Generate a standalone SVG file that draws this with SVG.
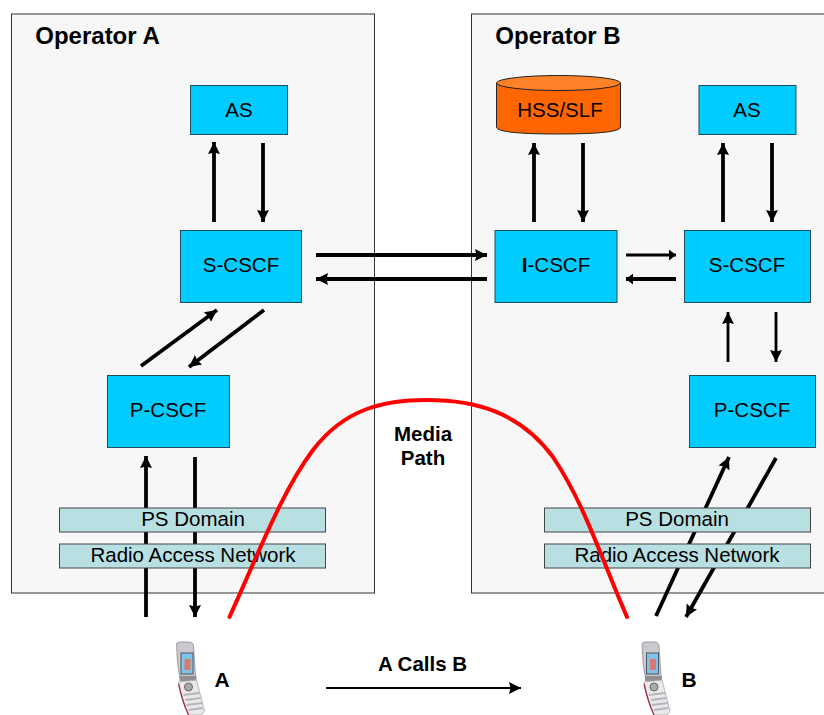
<svg xmlns="http://www.w3.org/2000/svg" xmlns:xlink="http://www.w3.org/1999/xlink" width="824" height="715" viewBox="0 0 824 715">
<style>
text{font-family:"Liberation Sans",Arial,sans-serif;fill:#000;text-anchor:middle}
.op{fill:#f7f7f7;stroke:#333;stroke-width:1}
.box{fill:#00ccff;stroke:#1f4e5f;stroke-width:1}
.bar{fill:#b8e0e3;stroke:#444;stroke-width:1}
.t{font-size:20.500px}
.b{font-size:20.500px;font-weight:bold}
.h{font-size:24px;font-weight:bold}
.c{fill:none;stroke:#000;stroke-width:3.800}
.c2{fill:none;stroke:#000;stroke-width:2.800}
</style>
<defs>
<marker id="a" markerUnits="userSpaceOnUse" markerWidth="13" markerHeight="13" refX="12" refY="6.500" orient="auto"><path d="M0,.5L12,6.500L0,12.500L1.500,6.500z" fill="#000"/></marker>
<marker id="s" markerUnits="userSpaceOnUse" markerWidth="8" markerHeight="11" refX="7" refY="5.500" orient="auto"><path d="M0,0L7,5.500L0,11z" fill="#000"/></marker>
<g id="phone">
<path d="M0,2Q0,0 4,0L12,0Q17,0 17,4L19,34L4,38Q2,30 1,20z" fill="#c9c9cf" stroke="#8d8d95" stroke-width=".8"/>
<rect x="4.500" y="11" width="12" height="21" fill="#7fc4e6" stroke="#556"/>
<rect x="8" y="17" width="6" height="11" fill="#d87a70"/>
<rect x="3" y="34" width="17" height="5" fill="#8f8f94"/>
<path d="M2,40L20,38L28,69L25,73L12,73Q6,60 2,40z" fill="#e9e9ec" stroke="#a8a8ae" stroke-width=".8"/>
<circle cx="12" cy="45" r="4" fill="#aaa" stroke="#666"/>
<path d="M7,53L23,51M9,58L24,56M10,63L26,61M12,68L26,66" stroke="#b5b5ba" stroke-width="2"/>
<path d="M2,42Q6,60 12,73" fill="none" stroke="#9a2a3c" stroke-width="1.200"/>
</g>
</defs>

<g id="operator-a"><rect class="op" x="11.500" y="14" width="363" height="579"/><text class="h" x="97.500" y="44">Operator A</text></g>
<g id="operator-b"><rect class="op" x="471.500" y="14" width="360" height="579"/><text class="h" x="558" y="44">Operator B</text></g>

<g id="connectors">
<path class="c" marker-end="url(#a)" d="M214,222V142"/>
<path class="c" marker-end="url(#a)" d="M263,143V222"/>
<path class="c" marker-end="url(#a)" d="M534,222V143"/>
<path class="c" marker-end="url(#a)" d="M583,143V222"/>
<path class="c" marker-end="url(#a)" d="M723,222V143"/>
<path class="c" marker-end="url(#a)" d="M772,143V222"/>
<path class="c" marker-end="url(#a)" d="M316,255H487"/>
<path class="c" marker-end="url(#a)" d="M487,279H316"/>
<path class="c2" marker-end="url(#s)" d="M626,255H676"/>
<path class="c" marker-end="url(#s)" d="M676,279H626"/>
<path class="c2" marker-end="url(#a)" d="M728,362V312"/>
<path class="c2" marker-end="url(#a)" d="M776,312V362"/>
<path class="c" marker-end="url(#a)" d="M141,366L217,310"/>
<path class="c" marker-end="url(#a)" d="M264,310L189,367"/>
<path class="c" marker-end="url(#a)" d="M146,617V456"/>
<path class="c" marker-end="url(#a)" d="M195,457V617"/>
<path class="c" marker-end="url(#a)" d="M656,616L729,457"/>
<path class="c" marker-end="url(#a)" d="M776,458L686,617"/>
<path d="M326,688H521" fill="none" stroke="#000" stroke-width="2" marker-end="url(#a)"/>
</g>

<g id="as-a"><rect class="box" x="190.500" y="85.500" width="97" height="49"/><text class="t" x="239" y="117">AS</text></g>
<g id="hss"><path d="M496.500,83V127Q496.500,134 558,134Q620.500,134 620.500,127V83z" fill="#ff6600" stroke="#222" stroke-width="1"/><ellipse cx="558.500" cy="83" rx="62" ry="7.500" fill="#ff8228" stroke="#222"/><text class="t" x="560" y="117">HSS/SLF</text></g>
<g id="as-b"><rect class="box" x="699" y="85.500" width="97" height="49"/><text class="t" x="747" y="117">AS</text></g>
<g id="s-cscf-a"><rect class="box" x="180.500" y="230.500" width="121" height="72"/><text class="t" x="241" y="272">S-CSCF</text></g>
<g id="i-cscf"><rect class="box" x="495" y="230.500" width="122" height="72"/><text class="t" x="556" y="272"><tspan font-weight="bold">I</tspan>-CSCF</text></g>
<g id="s-cscf-b"><rect class="box" x="684.500" y="230.500" width="126" height="72"/><text class="t" x="747" y="272">S-CSCF</text></g>
<g id="p-cscf-a"><rect class="box" x="107.500" y="375.500" width="122" height="72"/><text class="t" x="168" y="417">P-CSCF</text></g>
<g id="p-cscf-b"><rect class="box" x="689.500" y="375.500" width="126" height="72"/><text class="t" x="752" y="417">P-CSCF</text></g>
<g id="ps-a"><rect class="bar" x="59.500" y="508" width="266" height="24"/><text class="t" x="193" y="526">PS Domain</text></g>
<g id="ran-a"><rect class="bar" x="59.500" y="544" width="266" height="24"/><text class="t" x="193" y="562">Radio Access Network</text></g>
<g id="ps-b"><rect class="bar" x="544.500" y="508" width="266" height="24"/><text class="t" x="677" y="526">PS Domain</text></g>
<g id="ran-b"><rect class="bar" x="544.500" y="544" width="266" height="24"/><text class="t" x="677" y="562">Radio Access Network</text></g>

<path id="media-path" d="M229.500,617C262,545 283,490 313,450C345,408 385,400 427,400C475,400 520,412 553,457C585,505 600,555 627,617" fill="none" stroke="#ff0000" stroke-width="4" stroke-linecap="round"/>
<text class="b" x="423" y="441">Media</text>
<text class="b" x="423" y="465">Path</text>
<text class="b" x="422.500" y="671">A Calls B</text>

<g id="phone-a"><use xlink:href="#phone" href="#phone" x="176.500" y="642"/><text class="b" x="222" y="687" style="font-size:21px">A</text></g>
<g id="phone-b"><use xlink:href="#phone" href="#phone" x="642" y="642"/><text class="b" x="689" y="687" style="font-size:21px">B</text></g>
</svg>
